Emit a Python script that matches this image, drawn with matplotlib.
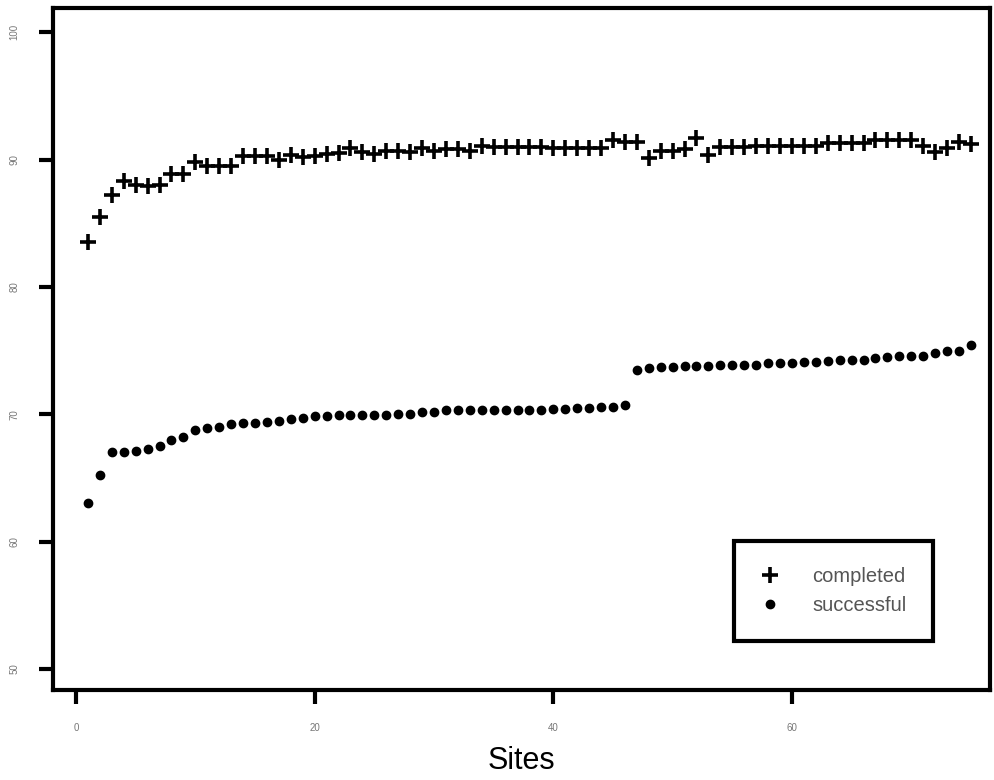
import matplotlib
matplotlib.use("Agg")
import matplotlib.pyplot as plt
import numpy as np

sites = list(range(1, 76))

completed = [83.5, 85.5, 87.2, 88.3, 88.0, 87.9, 88.0, 88.9, 88.85, 89.8,
             89.5, 89.5, 89.5, 90.3, 90.3, 90.3, 90.0, 90.35, 90.2, 90.3,
             90.4, 90.5, 90.9, 90.6, 90.4, 90.7, 90.7, 90.6, 90.9, 90.7,
             90.8, 90.8, 90.7, 91.1, 91.0, 91.0, 91.0, 91.0, 91.0, 90.9,
             90.9, 90.9, 90.9, 90.9, 91.5, 91.4, 91.4, 90.1, 90.7, 90.7,
             90.8, 91.7, 90.35, 91.0, 91.0, 91.0, 91.05, 91.05, 91.05, 91.1,
             91.1, 91.1, 91.3, 91.3, 91.3, 91.3, 91.5, 91.5, 91.5, 91.5,
             91.1, 90.6, 90.9, 91.4, 91.2]

successful = [63.0, 65.2, 67.0, 67.0, 67.1, 67.3, 67.5, 68.0, 68.2, 68.8,
              68.9, 69.0, 69.2, 69.3, 69.3, 69.4, 69.5, 69.6, 69.7, 69.9,
              69.9, 69.95, 69.95, 69.95, 69.95, 69.95, 70.0, 70.0, 70.2, 70.2,
              70.3, 70.3, 70.3, 70.3, 70.35, 70.35, 70.35, 70.35, 70.35, 70.4,
              70.4, 70.5, 70.5, 70.6, 70.6, 70.7, 73.5, 73.6, 73.7, 73.7,
              73.8, 73.8, 73.8, 73.9, 73.9, 73.9, 73.9, 74.0, 74.0, 74.0,
              74.1, 74.1, 74.2, 74.3, 74.3, 74.3, 74.4, 74.5, 74.6, 74.6,
              74.6, 74.8, 75.0, 75.0, 75.4]

xticks = [0, 20, 40, 60]
yticks = [50, 60, 70, 80, 90, 100]

plt.rcParams['font.family'] = ['Liberation Sans', 'DejaVu Sans']

fig = plt.figure(figsize=(9.94, 7.8), dpi=100)
ax = fig.add_axes([53/994, 1 - 690/780, (990 - 53)/994, (690 - 8)/780])

ax.plot(sites, completed, linestyle='none', marker='+', markersize=11,
        markeredgewidth=2.6, color='black', label='completed')
ax.plot(sites, successful, linestyle='none', marker='o', markersize=6,
        color='black', label='successful')

ax.set_xlim(-1.93, 76.6)
ax.set_ylim(48.35, 101.9)
ax.set_xticks(xticks)
ax.set_yticks(yticks)
ax.set_xticklabels([str(t) for t in xticks], fontsize=7, color='#777777')
ax.set_yticklabels([str(t) for t in yticks], fontsize=7, color='#777777',
                   rotation=90, va='center')
ax.tick_params(axis='both', direction='out', length=10, width=3, color='black')
ax.tick_params(axis='x', pad=14)
ax.tick_params(axis='y', pad=14)
for s in ax.spines.values():
    s.set_linewidth(3)

ax.set_xlabel('Sites', fontsize=22, labelpad=9)

leg = ax.legend(loc='lower right', bbox_to_anchor=((933 - 53)/937, (690 - 641)/682),
                frameon=True, fancybox=False, fontsize=14.5, handlelength=1.0,
                borderpad=1.3, labelspacing=0.5, handletextpad=1.6,
                borderaxespad=0, framealpha=1)
leg.get_frame().set_edgecolor('black')
leg.get_frame().set_linewidth(3)
for t in leg.get_texts():
    t.set_color('#555555')

fig.savefig('out.png', dpi=100)
